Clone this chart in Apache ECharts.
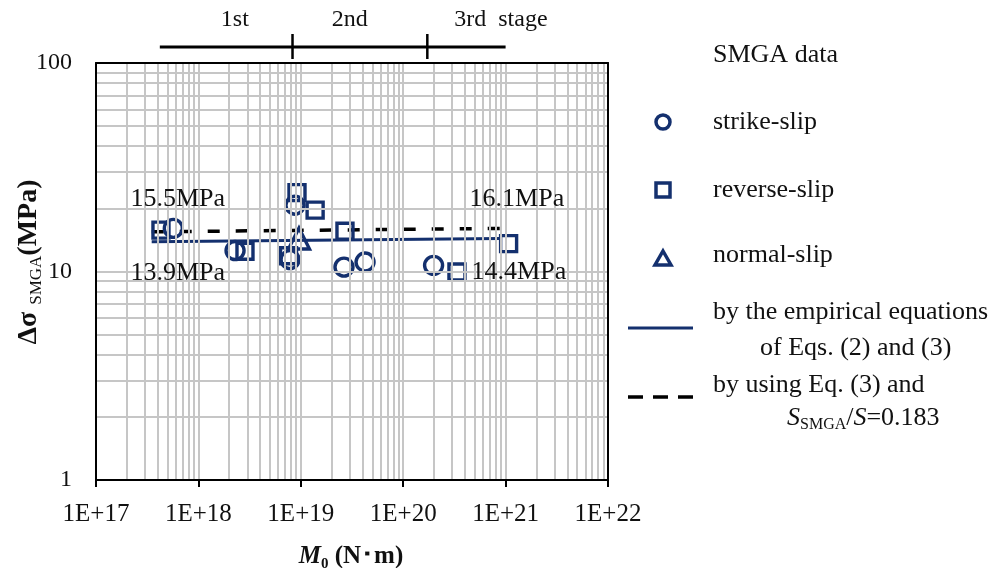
<!DOCTYPE html>
<html><head><meta charset="utf-8">
<script src="https://cdn.jsdelivr.net/npm/echarts@6/dist/echarts.min.js"></script>
<style>html,body{margin:0;padding:0;background:#fff}#c{width:999px;height:568px}</style>
</head><body><div id="c"></div>
<script>
// ---- data ----
const xTickLabels = ['1E+17','1E+18','1E+19','1E+20','1E+21','1E+22'];
const yTickLabels = ['1','10','100'];
const strikeX = [5.69e17, 2.28e18, 8.77e18, 7.85e18, 2.64e19, 4.24e19, 1.98e20];
const strikeY = [16.1, 12.6, 20.8, 11.4, 10.5, 11.1, 10.7];
const reverseX = [4.31e17, 2.85e18, 9.18e18, 1.38e19, 7.59e18, 2.70e19, 3.35e20, 1.07e21];
const reverseY = [15.8, 12.5, 23.9, 19.7, 11.9, 15.6, 9.95, 13.6];
const normalX = [9.6e18];
const normalY = [14.4];
const lineX = [3.5e17, 9.0e20];
const empiricalY = [13.9, 14.4];
const ratioY = [15.5, 16.1];
const stageBounds = [4.2e17, 8.3e18, 1.72e20, 1.0e21];
const stageNames = ['1st', '2nd', '3rd  stage'];
const stageLabelX = [2.27e18, 3.0e19, 9.0e20];

const NAVY = '#14306e';
const GRIDC = '#c6c6c6';
const FONT = 'Liberation Serif';

const xGrid = [], yGrid = [];
for (let k = 17; k < 22; k++) for (let m = 1; m < 10; m++) xGrid.push(m * Math.pow(10, k));
xGrid.push(1e22);
for (let k = 0; k < 2; k++) for (let m = 1; m < 10; m++) yGrid.push(m * Math.pow(10, k));
yGrid.push(100);

const pairs = (xs, ys) => xs.map((x, i) => [x, ys[i]]);
const hollow = { color: 'rgba(0,0,0,0)', borderColor: NAVY, borderWidth: 3.4, opacity: 1 };

const chart = echarts.init(document.getElementById('c'));
const option = {
  animation: false,
  backgroundColor: '#fff',
  grid: [
    { left: 96, top: 63, width: 512, height: 417, outerBoundsMode: 'none', containLabel: false },
    { left: 96, top: 0, width: 512, height: 60, outerBoundsMode: 'none', containLabel: false }
  ],
  xAxis: [
    { type: 'log', logBase: 10, min: 1e17, max: 1e22, gridIndex: 0, z: 5,
      axisLine: { show: true, lineStyle: { color: '#000', width: 2 } },
      axisTick: { show: true, inside: false, length: 7, lineStyle: { color: '#000', width: 2 } },
      axisLabel: { margin: 22, fontFamily: FONT, fontSize: 25, color: '#111',
        formatter: (v, i) => xTickLabels[i] },
      splitLine: { show: false }, minorTick: { show: false } },
    { type: 'log', logBase: 10, min: 1e17, max: 1e22, gridIndex: 0, position: 'top', z: 5,
      axisLine: { show: true, lineStyle: { color: '#000', width: 2 } },
      axisTick: { show: false }, axisLabel: { show: false }, splitLine: { show: false } },
    { type: 'log', logBase: 10, min: 1e17, max: 1e22, gridIndex: 1, show: false }
  ],
  yAxis: [
    { type: 'log', logBase: 10, min: 1, max: 100, gridIndex: 0, z: 5,
      axisLine: { show: true, lineStyle: { color: '#000', width: 2 } },
      axisTick: { show: false },
      axisLabel: { margin: 24, fontFamily: FONT, fontSize: 24, color: '#111',
        formatter: (v, i) => yTickLabels[i] },
      splitLine: { show: false } },
    { type: 'log', logBase: 10, min: 1, max: 100, gridIndex: 0, position: 'right', z: 5,
      axisLine: { show: true, lineStyle: { color: '#000', width: 2 } },
      axisTick: { show: false }, axisLabel: { show: false }, splitLine: { show: false } },
    { type: 'value', min: 0, max: 60, inverse: true, gridIndex: 1, show: false }
  ],
  series: [
    { type: 'line', xAxisIndex: 0, yAxisIndex: 0, z: 1, data: [[1e18, 10]], symbol: 'none',
      lineStyle: { width: 0 }, silent: true,
      markLine: { silent: true, symbol: ['none', 'none'], label: { show: false },
        lineStyle: { color: GRIDC, width: 2, type: 'solid', opacity: 1 }, animation: false,
        data: xGrid.map(v => ({ xAxis: v })).concat(yGrid.map(v => ({ yAxis: v }))) } },
    { name: 'by the empirical equations', type: 'line', z: 3, data: pairs(lineX, empiricalY),
      symbol: 'none', lineStyle: { color: NAVY, width: 3, opacity: 1 } },
    { name: 'by using Eq. (3)', type: 'line', z: 3, data: pairs(lineX, ratioY),
      symbol: 'none', lineStyle: { color: '#000', width: 3.5, type: [12, 16], opacity: 1 } },
    { name: 'strike-slip', type: 'scatter', z: 4, symbol: 'circle', symbolSize: 18,
      itemStyle: hollow, data: pairs(strikeX, strikeY) },
    { name: 'reverse-slip', type: 'scatter', z: 4, symbol: 'rect', symbolSize: 16,
      itemStyle: hollow, data: pairs(reverseX, reverseY) },
    { name: 'normal-slip', type: 'scatter', z: 4, symbol: 'triangle', symbolSize: 21,
      itemStyle: hollow, data: pairs(normalX, normalY) },
    { type: 'scatter', z: 6, symbolSize: 1, itemStyle: { color: 'rgba(0,0,0,0)', opacity: 1 }, silent: true,
      label: { show: true, position: 'inside', fontFamily: FONT, fontSize: 26, color: '#111', opacity: 1,
        formatter: p => p.value[1].toFixed(1) + 'MPa' },
      data: [
        { value: [lineX[0], ratioY[0]], label: { offset: [26, -33] } },
        { value: [lineX[0], empiricalY[0]], label: { offset: [26, 31] } },
        { value: [lineX[1], ratioY[1]], label: { offset: [16, -29] } },
        { value: [lineX[1], empiricalY[1]], label: { offset: [18, 34] } }
      ] },
    { type: 'line', xAxisIndex: 2, yAxisIndex: 2, symbol: 'none', silent: true,
      data: [[stageBounds[0], 47], [stageBounds[3], 47]], lineStyle: { color: '#000', width: 3 } },
    { type: 'line', xAxisIndex: 2, yAxisIndex: 2, symbol: 'none', silent: true,
      data: [[stageBounds[1], 34], [stageBounds[1], 59]], lineStyle: { color: '#000', width: 2.5 } },
    { type: 'line', xAxisIndex: 2, yAxisIndex: 2, symbol: 'none', silent: true,
      data: [[stageBounds[2], 34], [stageBounds[2], 59]], lineStyle: { color: '#000', width: 2.5 } },
    { type: 'scatter', xAxisIndex: 2, yAxisIndex: 2, symbolSize: 1, silent: true,
      itemStyle: { color: 'rgba(0,0,0,0)', opacity: 1 },
      label: { show: true, position: 'inside', fontFamily: FONT, fontSize: 24, color: '#111', opacity: 1,
        formatter: p => p.name },
      data: stageNames.map((n, i) => ({ name: n, value: [stageLabelX[i], 20] })) }
  ],
  graphic: [
    // axis titles
    { type: 'text', x: 351, y: 557, z: 10, style: {
      text: '{m|M}{s|0}{b| (N･m)}', align: 'center', verticalAlign: 'middle',
      rich: { m: { fontFamily: FONT, fontSize: 25, fontWeight: 'bold', fontStyle: 'italic', lineHeight: 30, fill: '#111' },
              s: { fontFamily: FONT, fontSize: 15, fontWeight: 'bold', lineHeight: 14, verticalAlign: 'bottom', fill: '#111' },
              b: { fontFamily: FONT, fontSize: 25, fontWeight: 'bold', lineHeight: 30, fill: '#111' } } } },
    { type: 'text', x: 29, y: 262, rotation: Math.PI / 2, z: 10, style: {
      text: '{b|Δσ }{s|SMGA}{b|(MPa)}', align: 'center', verticalAlign: 'middle',
      rich: { b: { fontFamily: FONT, fontSize: 28, fontWeight: 'bold', lineHeight: 32, fill: '#111' },
              s: { fontFamily: FONT, fontSize: 17, lineHeight: 15, verticalAlign: 'bottom', fill: '#111' } } } },
    // legend
    { type: 'text', x: 713, y: 55, style: { text: 'SMGA data', fontFamily: FONT, fontSize: 26, fill: '#111', verticalAlign: 'middle' } },
    { type: 'circle', shape: { cx: 663, cy: 122, r: 7 }, style: { fill: 'none', stroke: NAVY, lineWidth: 3.5 } },
    { type: 'text', x: 713, y: 122, style: { text: 'strike-slip', fontFamily: FONT, fontSize: 26, fill: '#111', verticalAlign: 'middle' } },
    { type: 'rect', shape: { x: 656, y: 183, width: 14, height: 14 }, style: { fill: 'none', stroke: NAVY, lineWidth: 3.5 } },
    { type: 'text', x: 713, y: 190, style: { text: 'reverse-slip', fontFamily: FONT, fontSize: 26, fill: '#111', verticalAlign: 'middle' } },
    { type: 'polygon', shape: { points: [[663, 251], [671, 265], [655, 265]] }, style: { fill: 'none', stroke: NAVY, lineWidth: 3.5, lineJoin: 'miter' } },
    { type: 'text', x: 713, y: 255, style: { text: 'normal-slip', fontFamily: FONT, fontSize: 26, fill: '#111', verticalAlign: 'middle' } },
    { type: 'line', shape: { x1: 628, y1: 328, x2: 693, y2: 328 }, style: { stroke: NAVY, lineWidth: 3 } },
    { type: 'text', x: 713, y: 312, style: { text: 'by the empirical equations', fontFamily: FONT, fontSize: 26, fill: '#111', verticalAlign: 'middle' } },
    { type: 'text', x: 760, y: 348, style: { text: 'of Eqs. (2) and (3)', fontFamily: FONT, fontSize: 26, fill: '#111', verticalAlign: 'middle' } },
    { type: 'line', shape: { x1: 628, y1: 397, x2: 693, y2: 397 }, style: { stroke: '#000', lineWidth: 3.5, lineDash: [15, 10] } },
    { type: 'text', x: 713, y: 385, style: { text: 'by using Eq. (3) and', fontFamily: FONT, fontSize: 26, fill: '#111', verticalAlign: 'middle' } },
    { type: 'text', x: 787, y: 418, style: {
      text: '{i|S}{s|SMGA}{n|/}{i|S}{n|=0.183}', verticalAlign: 'middle',
      rich: { i: { fontFamily: FONT, fontSize: 26, fontStyle: 'italic', lineHeight: 30, fill: '#111' },
              n: { fontFamily: FONT, fontSize: 26, lineHeight: 30, fill: '#111' },
              s: { fontFamily: FONT, fontSize: 16, lineHeight: 14, verticalAlign: 'bottom', fill: '#111' } } } }
  ]
};
chart.setOption(option);
</script>
</body></html>
